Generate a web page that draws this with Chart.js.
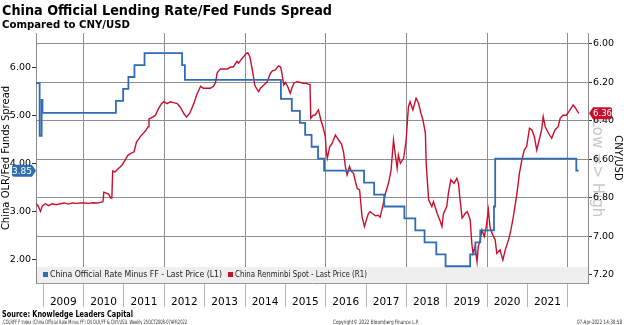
<!DOCTYPE html>
<html>
<head>
<meta charset="utf-8">
<script src="https://cdn.jsdelivr.net/npm/chart.js@4/dist/chart.umd.min.js"></script>
<style>
  html, body { margin: 0; padding: 0; background: #fff; }
  #wrap { width: 624px; height: 325px; position: relative; }
</style>
</head>
<body>
<div id="wrap"><canvas id="chart" width="624" height="325"></canvas></div>
<script>
// China official lending rate minus fed funds (left axis, %); each entry is a change date (decimal year)
const spreadDates = [2008.82, 2008.91, 2008.96, 2008.98, 2010.80, 2010.98, 2011.11, 2011.26, 2011.51,
  2012.44, 2012.51, 2014.89, 2015.16, 2015.36, 2015.49, 2015.65, 2015.81, 2015.96, 2016.95, 2017.20,
  2017.45, 2017.95, 2018.22, 2018.45, 2018.74, 2018.97, 2019.58, 2019.71, 2019.83, 2020.17, 2020.20,
  2022.21, 2022.27];
const spreadValues = [5.68, 4.58, 5.33, 5.06, 5.31, 5.56, 5.81, 6.06, 6.31,
  6.06, 5.75, 5.35, 5.10, 4.85, 4.60, 4.35, 4.10, 3.85, 3.60, 3.35,
  3.10, 2.85, 2.60, 2.35, 2.10, 1.85, 2.10, 2.35, 2.60, 3.10, 4.10,
  3.85, 3.85];

// Renminbi spot, CNY per USD (right axis, inverted)
const cnyDates = [2008.82, 2008.87, 2008.93, 2008.98, 2009.05, 2009.13, 2009.22, 2009.32, 2009.42, 2009.52,
  2009.62, 2009.73, 2009.83, 2009.93, 2010.03, 2010.13, 2010.23, 2010.33, 2010.42, 2010.48,
  2010.50, 2010.56, 2010.62, 2010.67, 2010.70, 2010.72, 2010.78, 2010.85, 2010.95, 2011.04,
  2011.09, 2011.16, 2011.25, 2011.31, 2011.41, 2011.54, 2011.60, 2011.62, 2011.71, 2011.78,
  2011.86, 2011.93, 2011.99, 2012.07, 2012.15, 2012.23, 2012.32, 2012.40, 2012.48, 2012.55,
  2012.63, 2012.67, 2012.73, 2012.81, 2012.90, 2012.97, 2013.04, 2013.14, 2013.22, 2013.27,
  2013.31, 2013.35, 2013.39, 2013.47, 2013.56, 2013.64, 2013.71, 2013.80, 2013.84, 2013.93,
  2013.99, 2014.03, 2014.07, 2014.12, 2014.18, 2014.21, 2014.24, 2014.28, 2014.34, 2014.38,
  2014.42, 2014.48, 2014.55, 2014.58, 2014.63, 2014.68, 2014.75, 2014.83, 2014.88, 2014.90,
  2014.96, 2015.00, 2015.06, 2015.12, 2015.16, 2015.21, 2015.29, 2015.37, 2015.45, 2015.52,
  2015.58, 2015.61, 2015.63, 2015.69, 2015.74, 2015.82, 2015.88, 2015.94, 2015.99, 2016.01,
  2016.04, 2016.10, 2016.15, 2016.24, 2016.32, 2016.39, 2016.44, 2016.49, 2016.53, 2016.59,
  2016.63, 2016.69, 2016.73, 2016.78, 2016.84, 2016.90, 2016.96, 2017.02, 2017.06, 2017.10,
  2017.15, 2017.23, 2017.30, 2017.35, 2017.42, 2017.48, 2017.56, 2017.62, 2017.68, 2017.72,
  2017.77, 2017.80, 2017.85, 2017.93, 2017.99, 2018.05, 2018.09, 2018.16, 2018.24, 2018.30,
  2018.36, 2018.41, 2018.47, 2018.49, 2018.55, 2018.63, 2018.67, 2018.76, 2018.84, 2018.88,
  2018.92, 2019.00, 2019.04, 2019.10, 2019.18, 2019.25, 2019.29, 2019.33, 2019.38, 2019.46,
  2019.51, 2019.58, 2019.62, 2019.65, 2019.70, 2019.75, 2019.78, 2019.83, 2019.87, 2019.93,
  2019.98, 2020.03, 2020.07, 2020.12, 2020.20, 2020.24, 2020.32, 2020.39, 2020.45, 2020.53,
  2020.59, 2020.65, 2020.74, 2020.80, 2020.86, 2020.92, 2020.98, 2021.05, 2021.11, 2021.17,
  2021.23, 2021.29, 2021.35, 2021.39, 2021.44, 2021.52, 2021.60, 2021.68, 2021.76, 2021.81,
  2021.88, 2021.96, 2022.03, 2022.13, 2022.18, 2022.27];
const cnyValues = [6.83, 6.84, 6.87, 6.84, 6.83, 6.84, 6.83, 6.835, 6.83, 6.826,
  6.832, 6.826, 6.828, 6.826, 6.826, 6.828, 6.825, 6.826, 6.823, 6.82,
  6.77, 6.775, 6.78, 6.80, 6.80, 6.66, 6.665, 6.65, 6.63, 6.60,
  6.58, 6.57, 6.56, 6.51, 6.48, 6.45, 6.43, 6.39, 6.38, 6.37,
  6.335, 6.31, 6.30, 6.31, 6.30, 6.305, 6.31, 6.33, 6.36, 6.38,
  6.36, 6.34, 6.31, 6.26, 6.22, 6.23, 6.23, 6.23, 6.22, 6.20,
  6.15, 6.14, 6.13, 6.13, 6.13, 6.12, 6.12, 6.09, 6.10, 6.074,
  6.06, 6.05, 6.045, 6.066, 6.135, 6.17, 6.213, 6.23, 6.248, 6.23,
  6.222, 6.21, 6.196, 6.18, 6.152, 6.14, 6.135, 6.114, 6.12, 6.135,
  6.213, 6.20, 6.222, 6.256, 6.23, 6.204, 6.196, 6.20, 6.204, 6.205,
  6.21, 6.21, 6.386, 6.37, 6.369, 6.343, 6.395, 6.438, 6.48, 6.55,
  6.594, 6.533, 6.52, 6.473, 6.499, 6.52, 6.56, 6.64, 6.68, 6.637,
  6.66, 6.672, 6.71, 6.75, 6.758, 6.897, 6.949, 6.905, 6.88, 6.871,
  6.88, 6.893, 6.89, 6.90, 6.836, 6.776, 6.72, 6.655, 6.499, 6.568,
  6.646, 6.577, 6.62, 6.594, 6.507, 6.326, 6.30, 6.343, 6.282, 6.308,
  6.36, 6.395, 6.464, 6.62, 6.81, 6.845, 6.819, 6.88, 6.923, 6.949,
  6.88, 6.845, 6.776, 6.706, 6.724, 6.698, 6.724, 6.81, 6.905, 6.88,
  6.871, 6.914, 7.035, 7.088, 7.053, 7.131, 7.053, 7.018, 6.966, 7.00,
  6.949, 6.862, 6.949, 6.983, 7.018, 7.088, 7.07, 7.122, 7.07, 7.018,
  6.966, 6.897, 6.776, 6.672, 6.603, 6.551, 6.533, 6.438, 6.447, 6.482,
  6.551, 6.499, 6.447, 6.378, 6.43, 6.464, 6.49, 6.447, 6.43, 6.386,
  6.37, 6.37, 6.35, 6.317, 6.33, 6.36];

// Axis ticks
const yearTicks = [2009, 2010, 2011, 2012, 2013, 2014, 2015, 2016, 2017, 2018, 2019, 2020, 2021, 2022];
const spreadTicks = [2, 3, 4, 5, 6];
const cnyTicks = [6.0, 6.2, 6.4, 6.6, 6.8, 7.0, 7.2];

const BLUE = '#2f6db3';
const RED = '#c8102e';
const GRID = '#8e8e8e';
const FONT = 'DejaVu Sans';

Chart.defaults.font.family = FONT;
Chart.defaults.color = '#000';

function pairs(xs, ys) { return xs.map((x, i) => ({ x: x, y: ys[i] })); }

// value tag pointing at an axis
function drawTag(ctx, y, bodyL, bodyR, tip, color, text) {
  const h = 6;
  ctx.save();
  ctx.fillStyle = color;
  ctx.beginPath();
  if (tip > bodyR) {
    ctx.moveTo(bodyL + 2, y - h); ctx.lineTo(bodyR, y - h); ctx.lineTo(tip, y);
    ctx.lineTo(bodyR, y + h); ctx.lineTo(bodyL + 2, y + h);
    ctx.quadraticCurveTo(bodyL, y + h, bodyL, y + h - 2); ctx.lineTo(bodyL, y - h + 2);
    ctx.quadraticCurveTo(bodyL, y - h, bodyL + 2, y - h);
  } else {
    ctx.moveTo(tip, y); ctx.lineTo(bodyL, y - h); ctx.lineTo(bodyR - 2, y - h);
    ctx.quadraticCurveTo(bodyR, y - h, bodyR, y - h + 2); ctx.lineTo(bodyR, y + h - 2);
    ctx.quadraticCurveTo(bodyR, y + h, bodyR - 2, y + h); ctx.lineTo(bodyL, y + h);
  }
  ctx.closePath();
  ctx.fill();
  ctx.fillStyle = '#fff';
  ctx.font = '9px ' + FONT;
  ctx.textAlign = 'center';
  ctx.textBaseline = 'middle';
  ctx.fillText(text, (bodyL + bodyR) / 2, y + 0.5, bodyR - bodyL);
  ctx.restore();
}

const decorations = {
  id: 'decorations',
  beforeDraw(chart) {
    const c = chart.ctx;
    c.save();
    c.fillStyle = '#fff';
    c.fillRect(0, 0, chart.width, chart.height);
    // direction watermark beside the right axis
    c.translate(597, 168);
    c.rotate(Math.PI / 2);
    c.font = '15px ' + FONT;
    c.fillStyle = '#c8c8c8';
    c.textAlign = 'center';
    c.textBaseline = 'middle';
    c.fillText('Low => High', 0, 0);
    c.restore();
  },
  beforeDatasetsDraw(chart) {
    const a = chart.chartArea, c = chart.ctx;
    c.save();
    c.fillStyle = '#efefef';
    c.fillRect(a.left + 1, a.bottom - 16, a.right - a.left - 1, 16);
    c.restore();
  },
  afterDatasetsDraw(chart) {
    const a = chart.chartArea, c = chart.ctx;
    // legend
    const ly = a.bottom - 8;
    c.save();
    c.font = '9px ' + FONT;
    c.textBaseline = 'middle';
    c.fillStyle = BLUE; c.fillRect(43, ly - 3, 5, 5);
    c.fillStyle = '#222';
    c.fillText(chart.data.datasets[0].label, 50, ly, 172);
    c.fillStyle = RED; c.fillRect(228, ly - 3, 5, 5);
    c.fillStyle = '#222';
    c.fillText(chart.data.datasets[1].label, 235, ly, 132);
    c.restore();
    // last-value tags
    const lastS = spreadValues[spreadValues.length - 1];
    const lastC = cnyValues[cnyValues.length - 1];
    drawTag(c, chart.scales.yL.getPixelForValue(lastS), 12, 32, 36, BLUE, lastS.toFixed(2));
    drawTag(c, chart.scales.yR.getPixelForValue(lastC), 593, 612, 589, RED, lastC.toFixed(2));
  },
  afterDraw(chart) {
    const c = chart.ctx;
    c.save();
    c.fillStyle = '#000';
    c.textBaseline = 'alphabetic';
    c.font = 'bold 14px ' + FONT;
    c.fillText('China Official Lending Rate/Fed Funds Spread', 2, 15, 330);
    c.font = 'bold 11px ' + FONT;
    c.fillText('Compared to CNY/USD', 2, 28, 128);
    c.font = 'bold 9.5px ' + FONT;
    c.fillText('Source: Knowledge Leaders Capital', 2, 317, 131);
    c.font = '6px ' + FONT;
    c.fillStyle = '#333';
    c.fillText('.COLRFF F Index (China Official Rate Minus FF) CN OLR/FF & CNY/USD  Weekly 25OCT2008-07APR2022', 2, 324, 185);
    c.fillText('Copyright\u00A9 2022 Bloomberg Finance L.P.', 333, 324, 86);
    c.textAlign = 'right';
    c.fillText('07-Apr-2022 14:30:58', 622, 324, 45);
    c.restore();
  }
};

new Chart(document.getElementById('chart'), {
  type: 'line',
  data: {
    datasets: [
      {
        label: 'China Official Rate Minus FF - Last Price (L1)',
        data: pairs(spreadDates, spreadValues),
        yAxisID: 'yL',
        borderColor: BLUE,
        borderWidth: 1.8,
        stepped: 'before',
        pointRadius: 0
      },
      {
        label: 'China Renminbi Spot - Last Price (R1)',
        data: pairs(cnyDates, cnyValues),
        yAxisID: 'yR',
        borderColor: RED,
        borderWidth: 1.4,
        tension: 0,
        pointRadius: 0
      }
    ]
  },
  options: {
    responsive: false,
    animation: false,
    devicePixelRatio: 1,
    layout: { padding: { top: 33, bottom: 18, left: 0, right: 0 } },
    plugins: { legend: { display: false }, tooltip: { enabled: false }, title: { display: false } },
    scales: {
      x: {
        type: 'linear',
        min: 2008.82,
        max: 2022.5,
        afterBuildTicks: s => { s.ticks = yearTicks.map(v => ({ value: v })); },
        afterFit: s => { s.height = 24; },
        grid: {
          color: ctx => (ctx.tick && ctx.tick.value % 2 === 0) ? GRID : 'rgba(0,0,0,0)',
          tickColor: '#b4b4b4',
          tickLength: 24,
          lineWidth: 1
        },
        border: { display: true, color: '#9a9a9a' },
        ticks: {
          autoSkip: false,
          maxRotation: 0,
          labelOffset: 20,
          padding: -11,
          font: { size: 10.5 },
          callback: v => (v < 2022 ? String(v) : '')
        }
      },
      yL: {
        position: 'left',
        min: 1.5,
        max: 6.73,
        afterBuildTicks: s => { s.ticks = spreadTicks.map(v => ({ value: v })); },
        afterFit: s => { s.width = 36; },
        grid: { drawOnChartArea: false, tickLength: 4, tickColor: '#333' },
        border: { color: '#8a8a8a' },
        ticks: { padding: 1, font: { size: 9.5 }, callback: v => Number(v).toFixed(2) },
        title: { display: true, text: 'China OLR/Fed Funds Spread', padding: 0, font: { size: 10 } }
      },
      yR: {
        position: 'right',
        reverse: true,
        min: 5.943,
        max: 7.242,
        afterBuildTicks: s => { s.ticks = cnyTicks.map(v => ({ value: v })); },
        afterFit: s => { s.width = 36; },
        grid: { color: GRID, tickLength: 4, tickColor: '#333' },
        border: { color: '#8a8a8a' },
        ticks: { padding: 1, font: { size: 9.5 }, callback: v => Number(v).toFixed(2) },
        title: { display: true, text: 'CNY/USD', padding: 0, font: { size: 10 } }
      }
    }
  },
  plugins: [decorations]
});
</script>
</body>
</html>
